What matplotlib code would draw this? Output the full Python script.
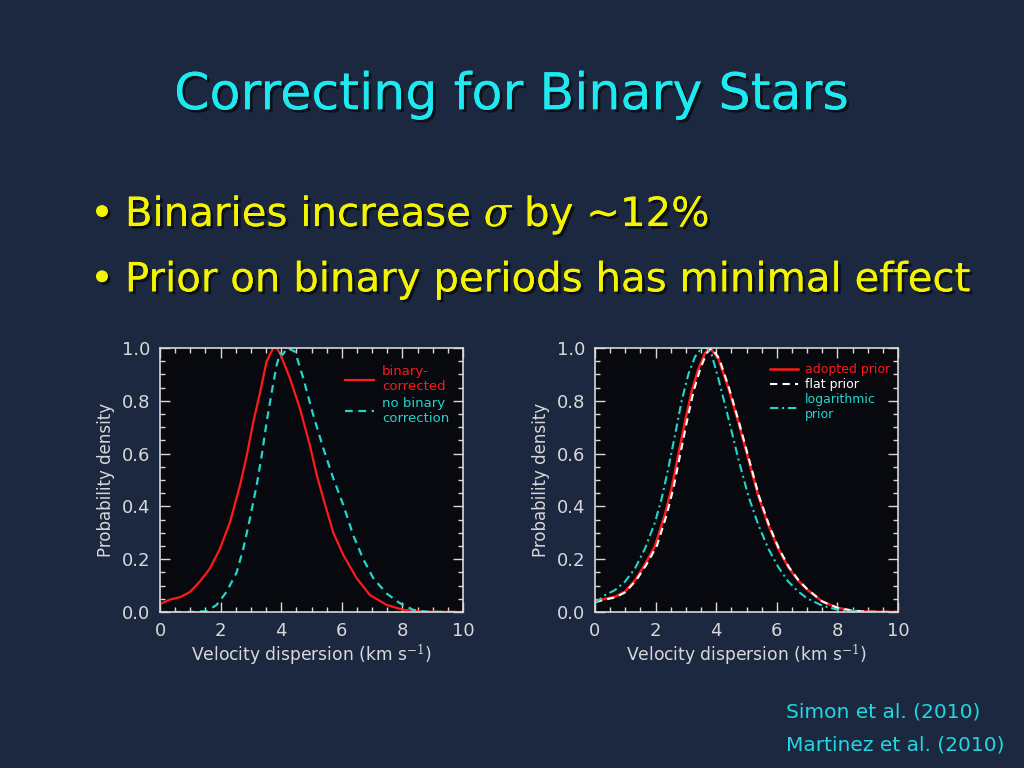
import matplotlib

matplotlib.use("Agg")
import matplotlib.pyplot as plt
import matplotlib.patheffects as pe
from matplotlib.ticker import MultipleLocator

# ---- left panel: binary correction ----
x_corr = [0, 0.33, 0.66, 0.99, 1.32, 1.65, 1.98, 2.31, 2.64, 2.86, 3.08, 3.3, 3.52,
          3.74, 3.85, 3.96, 4.29, 4.62, 4.95, 5.17, 5.39, 5.72, 6.05, 6.49, 6.93,
          7.48, 8.03, 8.7, 10]
y_corr = [0.03, 0.047, 0.056, 0.076, 0.116, 0.165, 0.24, 0.34, 0.48, 0.59, 0.72, 0.83, 0.95,
          1.0, 1.0, 0.98, 0.885, 0.77, 0.63, 0.52, 0.43, 0.30, 0.216, 0.128, 0.064,
          0.027, 0.008, 0.001, 0.0]

x_nocorr = [0, 1.0, 1.54, 1.87, 2.2, 2.53, 2.75, 2.97, 3.19, 3.36, 3.52, 3.69, 3.85,
            3.96, 4.05, 4.2, 4.46, 4.73, 5.06, 5.39, 5.72, 6.05, 6.38, 6.71, 7.04,
            7.48, 7.92, 8.36, 8.8, 10]
y_nocorr = [0, 0, 0.003, 0.027, 0.077, 0.15, 0.24, 0.355, 0.48, 0.595, 0.72, 0.835, 0.935,
            0.98, 0.975, 1.0, 0.986, 0.885, 0.745, 0.62, 0.506, 0.405, 0.29, 0.2, 0.128,
            0.07, 0.033, 0.008, 0.001, 0.0]

# ---- right panel: period priors ----
x_adopt = [0, 0.33, 0.66, 0.99, 1.32, 1.65, 1.98, 2.31, 2.53, 2.75, 2.97, 3.19, 3.41,
           3.63, 3.8, 4.07, 4.4, 4.73, 5.06, 5.39, 5.72, 6.05, 6.38, 6.7, 7.0,
           7.5, 8.0, 8.5, 9.0, 10]
y_adopt = [0.04, 0.05, 0.058, 0.077, 0.12, 0.18, 0.25, 0.37, 0.47, 0.595, 0.72, 0.835, 0.92,
           0.98, 1.0, 0.96, 0.85, 0.72, 0.58, 0.44, 0.33, 0.24, 0.17, 0.12, 0.085,
           0.04, 0.016, 0.005, 0.001, 0.0]

x_flat = [0, 0.33, 0.66, 0.99, 1.36, 1.7, 2.04, 2.37, 2.59, 2.81, 3.03, 3.25, 3.47,
          3.68, 3.85, 4.1, 4.42, 4.75, 5.08, 5.41, 5.74, 6.07, 6.4, 6.72, 7.02,
          7.5, 8.0, 8.5, 9.0, 10]
y_flat = [0.037, 0.047, 0.055, 0.074, 0.12, 0.18, 0.25, 0.37, 0.47, 0.595, 0.72, 0.835, 0.92,
          0.98, 1.0, 0.96, 0.85, 0.72, 0.58, 0.44, 0.33, 0.24, 0.17, 0.12, 0.085,
          0.04, 0.016, 0.005, 0.001, 0.0]

x_log = [0, 0.33, 0.66, 0.99, 1.32, 1.65, 1.98, 2.2, 2.42, 2.64, 2.86, 3.08, 3.3,
         3.52, 3.69, 3.85, 4.07, 4.4, 4.73, 5.06, 5.39, 5.72, 6.05, 6.38, 6.7,
         7.0, 7.5, 8.0, 8.5, 9.0, 10]
y_log = [0.033, 0.064, 0.083, 0.115, 0.165, 0.24, 0.34, 0.43, 0.545, 0.67, 0.8, 0.9, 0.967,
         1.0, 1.0, 0.975, 0.885, 0.735, 0.58, 0.44, 0.33, 0.24, 0.17, 0.115, 0.078,
         0.052, 0.024, 0.009, 0.003, 0.0, 0.0]

title = "Correcting for Binary Stars"
bullets = ["Binaries increase $\\sigma$ by ~12%",
           "Prior on binary periods has minimal effect"]
refs = ["Simon et al. (2010)", "Martinez et al. (2010)"]

BG = "#1c2840"
PLOT_BG = "#07090e"
AX_FG = "#d8d8d8"
RED = "#ff1a1a"
CYAN = "#22d6cc"
shadow = [pe.withSimplePatchShadow(offset=(2, -2), shadow_rgbFace="black", alpha=0.6),
          pe.Normal()]

plt.rcParams["font.family"] = ["DejaVu Sans"]
plt.rcParams["mathtext.fontset"] = "dejavuserif"

fig = plt.figure(figsize=(10.24, 7.68), dpi=100, facecolor=BG)

fig.text(0.5, 0.876, title, ha="center", va="center", fontsize=36.5,
         color="#1ee8f0", path_effects=shadow)

for i, line in enumerate(bullets):
    yy = 0.72 - i * 0.085
    fig.text(0.088, yy, "\u2022", ha="left", va="center", fontsize=29,
             color="#f4f400", path_effects=shadow)
    fig.text(0.122, yy, line, ha="left", va="center", fontsize=29,
             color="#f4f400", path_effects=shadow)

for i, r in enumerate(refs):
    fig.text(0.768, 0.073 - i * 0.043, r, ha="left", va="center", fontsize=14.5,
             color="#22d8e0")


def style_axes(ax):
    ax.set_facecolor(PLOT_BG)
    ax.set_xlim(0, 10)
    ax.set_ylim(0, 1.0)
    ax.xaxis.set_major_locator(MultipleLocator(2))
    ax.xaxis.set_minor_locator(MultipleLocator(0.5))
    ax.yaxis.set_major_locator(MultipleLocator(0.2))
    ax.yaxis.set_minor_locator(MultipleLocator(0.05))
    ax.tick_params(which="both", direction="in", top=True, right=True,
                   colors=AX_FG, labelsize=13, pad=7)
    ax.tick_params(which="major", length=7, width=1)
    ax.tick_params(which="minor", length=3.5, width=1)
    ax.set_xticks([0, 2, 4, 6, 8, 10])
    ax.set_xticklabels(["0", "2", "4", "6", "8", "10"])
    ax.set_yticks([0, 0.2, 0.4, 0.6, 0.8, 1.0])
    ax.set_yticklabels(["0.0", "0.2", "0.4", "0.6", "0.8", "1.0"])
    for s in ax.spines.values():
        s.set_color(AX_FG)
        s.set_linewidth(1.2)
    ax.set_xlabel("Velocity dispersion (km s$^{-1}$)", color=AX_FG, fontsize=12.3,
                  labelpad=2)
    ax.set_ylabel("Probability density", color=AX_FG, fontsize=12, labelpad=5)


ax1 = fig.add_axes([160 / 1024, 156 / 768, 303 / 1024, 264 / 768])
ax1.plot(x_corr, y_corr, color=RED, lw=1.6, label="binary-\ncorrected")
ax1.plot(x_nocorr, y_nocorr, color=CYAN, lw=1.6, ls=(0, (3.5, 2.5)),
         label="no binary\ncorrection")
style_axes(ax1)
ax1.legend(loc="upper right", frameon=False, fontsize=9.5, labelcolor="linecolor",
           handlelength=2.2, handletextpad=0.6, borderaxespad=0.3, labelspacing=0.3,
           bbox_to_anchor=(0.985, 0.97))

ax2 = fig.add_axes([595 / 1024, 156 / 768, 303 / 1024, 264 / 768])
ax2.plot(x_adopt, y_adopt, color=RED, lw=1.8, label="adopted prior")
ax2.plot(x_flat, y_flat, color="white", lw=1.5, ls=(0, (3.5, 2.5)), label="flat prior")
ax2.plot(x_log, y_log, color=CYAN, lw=1.5, ls=(0, (4, 1.8, 1, 1.8)),
         label="logarithmic\nprior")
style_axes(ax2)
leg = ax2.legend(loc="upper right", frameon=False, fontsize=9,
                 handlelength=2.2, handletextpad=0.6, borderaxespad=0.2,
                 labelspacing=0.15, bbox_to_anchor=(1.0, 0.97))
for t, c in zip(leg.get_texts(), [RED, "white", CYAN]):
    t.set_color(c)

fig.savefig("out.png", dpi=100, facecolor=BG)
